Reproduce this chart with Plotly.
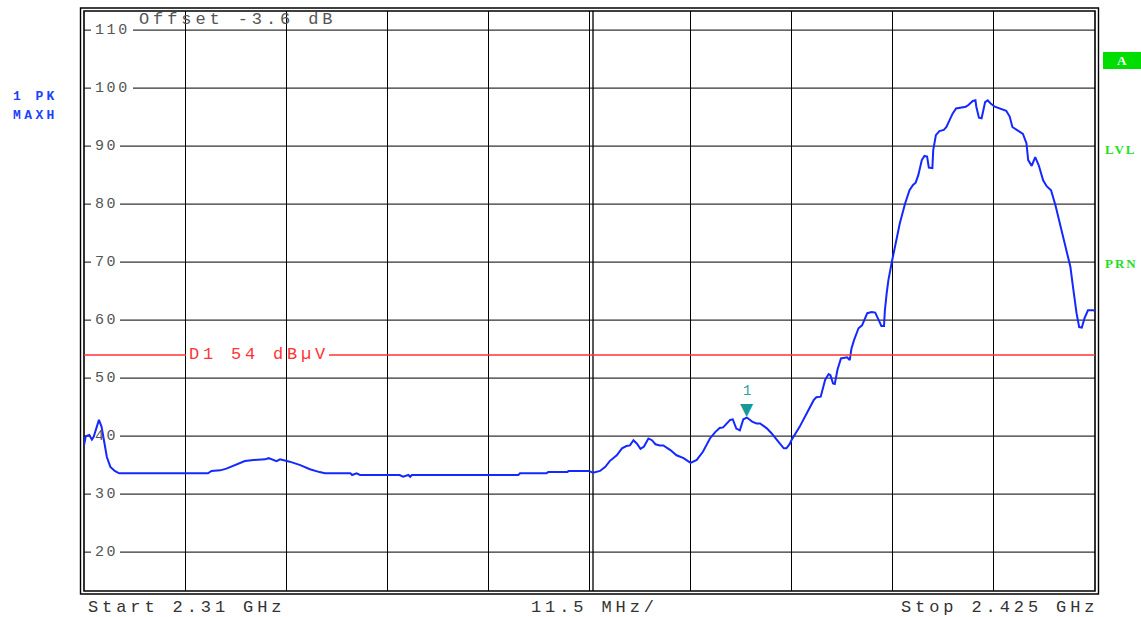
import plotly.graph_objects as go

# ---------------- data ----------------
freq_mhz = [
    2310.0, 2310.2, 2310.6, 2310.9, 2311.1, 2311.6, 2311.7, 2312.0, 2312.3, 2312.6,
    2313.0, 2313.5, 2314.0, 2324.1, 2324.5, 2325.5, 2326.2, 2327.4, 2328.3, 2329.3,
    2330.6, 2331.0, 2331.5, 2331.9, 2332.3, 2332.7, 2333.4, 2334.6, 2335.7, 2336.8,
    2337.4, 2340.3, 2340.5, 2341.0, 2341.4, 2345.9, 2346.3, 2346.9, 2347.1, 2347.3,
    2359.4, 2359.6, 2362.6, 2362.8, 2365.0, 2365.1, 2367.4, 2367.9, 2368.7, 2369.3,
    2369.8,
    2370.6, 2371.2, 2371.7, 2372.1, 2372.5, 2372.9, 2373.3, 2373.7, 2374.2, 2374.6,
    2375.0, 2375.5, 2375.9, 2376.7, 2377.4, 2378.2, 2379.0, 2379.7, 2380.4, 2381.2,
    2381.8, 2382.3, 2382.7, 2383.5, 2383.8, 2384.0, 2384.2, 2384.6, 2385.0, 2385.4,
    2386.0, 2386.5, 2386.9, 2387.7, 2388.2, 2389.0, 2389.6, 2389.9, 2390.3,
    2390.5, 2391.4, 2392.2, 2393.0, 2393.3, 2393.8, 2394.3, 2394.7, 2394.9, 2395.2,
    2395.4, 2395.7, 2396.1, 2396.8, 2397.1, 2397.3, 2397.6, 2398.1, 2398.5, 2399.1,
    2399.6, 2400.0, 2400.4, 2400.7, 2401.0, 2401.1, 2401.3, 2401.5,
    2401.9, 2402.3, 2402.8, 2403.4, 2403.9, 2404.3, 2404.6, 2404.9, 2405.3, 2405.6,
    2405.9, 2406.1, 2406.5, 2406.6, 2406.9, 2407.3, 2407.8, 2408.1, 2408.5, 2408.8,
    2409.2, 2409.8, 2410.3, 2410.6, 2411.1, 2411.4, 2411.5, 2411.8, 2412.1, 2412.3,
    2412.5, 2412.8, 2413.1, 2413.6, 2414.4, 2414.9, 2415.3, 2415.6, 2416.1, 2416.8,
    2417.2, 2417.4, 2417.8, 2418.2, 2418.6, 2419.1, 2419.5, 2420.0, 2420.5, 2421.0,
    2421.6, 2422.2, 2422.5, 2422.9, 2423.2, 2423.5, 2423.8, 2424.2, 2424.8, 2425.0,
]
level_dbuv = [
    38.4, 40.0, 40.2, 39.4, 39.9, 42.6, 42.8, 41.6, 39.3, 36.4,
    34.7, 34.0, 33.6, 33.6, 34.0, 34.1, 34.4, 35.2, 35.7, 35.9,
    36.0, 36.2, 35.9, 35.7, 36.0, 35.9, 35.6, 35.0, 34.3, 33.8,
    33.6, 33.6, 33.3, 33.6, 33.3, 33.3, 33.0, 33.3, 33.0, 33.3,
    33.3, 33.6, 33.6, 33.8, 33.8, 34.0, 34.0, 33.7, 34.0, 34.7,
    35.7,
    36.7, 37.9, 38.3, 38.4, 39.3, 38.7, 37.8, 38.2, 39.6, 39.3,
    38.6, 38.4, 38.4, 37.6, 36.7, 36.2, 35.4, 35.9, 37.3, 39.6,
    40.7, 41.4, 41.5, 42.8, 42.9, 42.2, 41.3, 41.0, 42.9, 43.2,
    42.5, 42.2, 42.2, 41.3, 40.5, 39.0, 37.9, 37.9, 38.7,
    39.4, 41.6, 43.9, 46.2, 46.7, 46.8, 49.7, 50.7, 50.5, 49.1,
    49.0, 51.4, 53.4, 53.6, 53.1, 55.1, 56.6, 58.6, 59.1, 61.2,
    61.4, 61.3, 60.0, 59.0, 59.0, 61.7, 64.6, 66.9,
    70.1, 72.9, 76.7, 80.1, 82.4, 83.3, 83.7, 85.0, 87.6, 88.3,
    88.2, 86.3, 86.2, 89.3, 91.9, 92.6, 92.8, 93.3, 94.8, 95.6,
    96.5, 96.7, 96.8, 97.1, 97.8, 97.9, 96.8, 94.9, 94.8, 96.2,
    97.6, 97.9, 97.4, 96.8, 96.3, 96.1, 95.1, 93.3, 92.8, 92.1,
    90.5, 87.6, 86.6, 88.1, 86.7, 84.1, 83.1, 82.4, 79.8, 76.7,
    73.2, 69.2, 65.7, 61.2, 58.8, 58.7, 60.3, 61.7, 61.7, 61.6,
]
y_ticks = [20, 30, 40, 50, 60, 70, 80, 90, 100, 110]
y_range = [13.3, 113.3]
start_ghz = 2.31
stop_ghz = 2.425
span_per_div_mhz = 11.5
limit_dbuv = 54
offset_db = -3.6
marker_freq_mhz = 2385.4
marker_level_dbuv = 43.2

# ---------------- layout helpers ----------------
W, H = 1141, 617
L, R, T, B = 84, 1095, 11, 591


def px(X):
    return (X - L) / (R - L)


def py(Y):
    return (B - Y) / (B - T)


def spaced(text, sp):
    return f'<span style="letter-spacing:{sp}px">{text}</span>'


MONO = "Liberation Mono"
GRID_TXT = "#555555"

fig = go.Figure()
fig.add_trace(go.Scatter(
    x=freq_mhz, y=level_dbuv, mode="lines",
    line=dict(color="#1428ff", width=2), hoverinfo="skip", showlegend=False,
))

shapes = []
annotations = []

# horizontal grid lines broken around their labels
for v in y_ticks:
    start = 133 if v >= 100 else 120
    shapes.append(dict(type="line", xref="paper", yref="y", x0=0, x1=px(91),
                       y0=v, y1=v, line=dict(color="#333333", width=1.2), layer="below"))
    shapes.append(dict(type="line", xref="paper", yref="y", x0=px(start), x1=1,
                       y0=v, y1=v, line=dict(color="#333333", width=1.2), layer="below"))
    annotations.append(dict(xref="paper", yref="y", x=px(93), y=v, xanchor="left",
                            yanchor="middle", showarrow=False,
                            text=spaced(str(v), 2.6),
                            font=dict(family=MONO, size=15, color=GRID_TXT)))

# centre double line
shapes.append(dict(type="line", xref="paper", yref="paper", x0=px(593), x1=px(593),
                   y0=0, y1=1, line=dict(color="#000000", width=1.3), layer="below"))

# frames
shapes.append(dict(type="rect", xref="paper", yref="paper", x0=0, x1=1, y0=0, y1=1,
                   line=dict(color="#000000", width=1.6), layer="below"))
shapes.append(dict(type="rect", xref="paper", yref="paper", x0=px(80.5), x1=px(1098.5),
                   y0=py(594), y1=py(8), line=dict(color="#000000", width=1.4), layer="below"))

# display line D1
shapes.append(dict(type="line", xref="paper", yref="y", x0=0, x1=px(186),
                   y0=limit_dbuv, y1=limit_dbuv, line=dict(color="#ff3333", width=1.5)))
shapes.append(dict(type="line", xref="paper", yref="y", x0=px(329), x1=1,
                   y0=limit_dbuv, y1=limit_dbuv, line=dict(color="#ff3333", width=1.5)))
annotations.append(dict(xref="paper", yref="y", x=px(187), y=limit_dbuv, xanchor="left",
                        yanchor="middle", showarrow=False,
                        text=spaced(f"D1 {limit_dbuv:g} dBµV", 3.8),
                        font=dict(family=MONO, size=17, color="#ff3333")))

# offset text
annotations.append(dict(xref="paper", yref="paper", x=px(137), y=py(20), xanchor="left",
                        yanchor="middle", showarrow=False,
                        text=spaced(f"Offset {offset_db:g} dB", 3.9),
                        font=dict(family=MONO, size=17, color=GRID_TXT)))

# bottom labels
bottom_font = dict(family=MONO, size=17, color="#333333")
annotations.append(dict(xref="paper", yref="paper", x=px(86), y=py(607), xanchor="left",
                        yanchor="middle", showarrow=False,
                        text=spaced(f"Start {start_ghz:g} GHz", 3.9), font=bottom_font))
annotations.append(dict(xref="paper", yref="paper", x=px(594), y=py(607), xanchor="center",
                        yanchor="middle", showarrow=False,
                        text=spaced(f"{span_per_div_mhz:g} MHz/", 3.9), font=bottom_font))
annotations.append(dict(xref="paper", yref="paper", x=px(1100), y=py(607), xanchor="right",
                        yanchor="middle", showarrow=False,
                        text=spaced(f"Stop {stop_ghz:g} GHz", 3.9), font=bottom_font))

# trace info (left)
for txt, yy in (("1 PK", 97), ("MAXH", 115)):
    annotations.append(dict(xref="paper", yref="paper", x=px(11), y=py(yy), xanchor="left",
                            yanchor="middle", showarrow=False,
                            text=spaced(f"<b>{txt}</b>", 3.4),
                            font=dict(family=MONO, size=13, color="#2040ff")))

# right side status labels
GREEN = "#22dd22"
shapes.append(dict(type="rect", xref="paper", yref="paper", x0=px(1103), x1=px(1141),
                   y0=py(69), y1=py(52), fillcolor="#00dd00", line=dict(width=0)))
annotations.append(dict(xref="paper", yref="paper", x=px(1122), y=py(60.5), xanchor="center",
                        yanchor="middle", showarrow=False, text="<b>A</b>",
                        font=dict(family="Liberation Serif", size=13, color="#ffffff")))
for txt, yy in (("LVL", 149), ("PRN", 263)):
    annotations.append(dict(xref="paper", yref="paper", x=px(1103), y=py(yy), xanchor="left",
                            yanchor="middle", showarrow=False,
                            text=spaced(f"<b>{txt}</b>", 2),
                            font=dict(family="Liberation Serif", size=13, color=GREEN)))

# marker 1
annotations.append(dict(xref="x", yref="y", x=marker_freq_mhz, y=marker_level_dbuv,
                        xanchor="center", yanchor="bottom", showarrow=False, text="▼",
                        yshift=-3, font=dict(family="DejaVu Sans", size=17, color="#159a9a")))
annotations.append(dict(xref="x", yref="y", x=marker_freq_mhz, y=marker_level_dbuv,
                        xanchor="center", yanchor="bottom", showarrow=False, text="1",
                        yshift=17, font=dict(family=MONO, size=14, color="#2aa0a0")))

fig.update_layout(
    width=W, height=H,
    margin=dict(l=L, r=W - R, t=T, b=H - B, pad=0),
    paper_bgcolor="#ffffff", plot_bgcolor="#ffffff",
    xaxis=dict(range=[start_ghz * 1000, stop_ghz * 1000], tick0=start_ghz * 1000,
               dtick=span_per_div_mhz, showgrid=True, gridcolor="#000000", gridwidth=1.3,
               showticklabels=False, zeroline=False, showline=False, ticks="", fixedrange=True),
    yaxis=dict(range=y_range, showgrid=False, showticklabels=False, zeroline=False,
               showline=False, ticks="", fixedrange=True),
    shapes=shapes, annotations=annotations, showlegend=False,
)

fig.write_html("out.html", config={"displayModeBar": False},
               post_script="document.body.style.margin='0';document.body.style.overflow='hidden';")
